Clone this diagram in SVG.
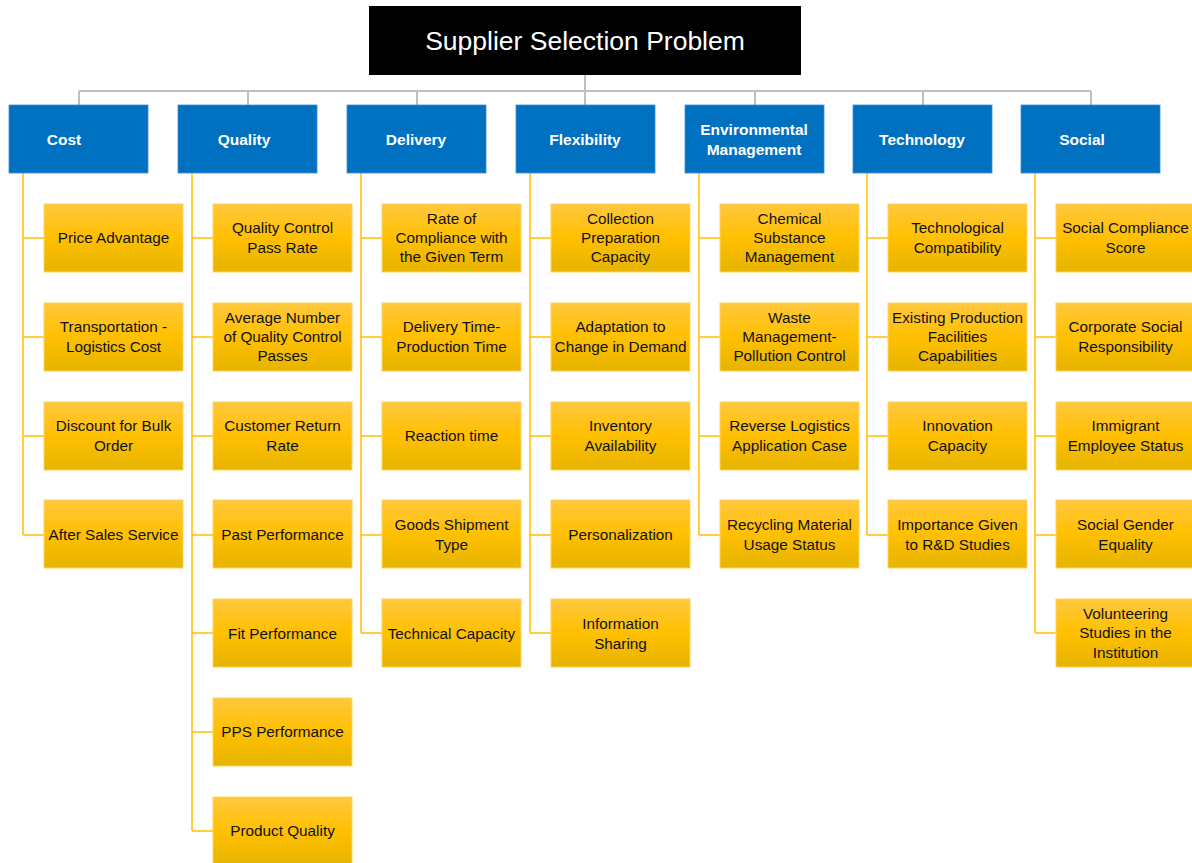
<svg xmlns="http://www.w3.org/2000/svg" width="1192" height="863" viewBox="0 0 1192 863">
<style>
.title{fill:#000}
.tt{font-family:"Liberation Sans",Arial,sans-serif;font-size:26.5px;fill:#fff;text-anchor:middle}
.cat{fill:#0070C0;stroke:#3d8fd0;stroke-width:0.8}
.ct{font-family:"Liberation Sans",Arial,sans-serif;font-size:15.5px;font-weight:bold;fill:#fff;text-anchor:middle}
.ch{fill:url(#yg);stroke:#ffd35c;stroke-width:1}
.t{font-family:"Liberation Sans",Arial,sans-serif;font-size:15.3px;fill:#111;text-anchor:middle}
.g{stroke:#BFBFBF;stroke-width:2;fill:none}
.y{stroke:#FFC000;stroke-width:1.5;fill:none}
</style>
<defs>
<linearGradient id="yg" x1="0" y1="0" x2="0" y2="1">
<stop offset="0" stop-color="#FFC83F"/>
<stop offset="0.5" stop-color="#FFC000"/>
<stop offset="1" stop-color="#E6B400"/>
</linearGradient>
</defs>
<rect width="1192" height="863" fill="#fff"/>
<g id="connectors">
<path class="g" d="M585 75V105M79 91H1091M79 91V105M248 91V105M417 91V105M755 91V105M923 91V105M1091 91V105"/>
<path class="y" d="M23 173V535M23 238H44M23 337H44M23 436H44M23 535H44"/>
<path class="y" d="M192 173V831M192 238H213M192 337H213M192 436H213M192 535H213M192 633H213M192 732H213M192 831H213"/>
<path class="y" d="M361 173V633M361 238H382M361 337H382M361 436H382M361 535H382M361 633H382"/>
<path class="y" d="M530 173V633M530 238H551M530 337H551M530 436H551M530 535H551M530 633H551"/>
<path class="y" d="M699 173V535M699 238H720M699 337H720M699 436H720M699 535H720"/>
<path class="y" d="M867 173V535M867 238H888M867 337H888M867 436H888M867 535H888"/>
<path class="y" d="M1035 173V633M1035 238H1056M1035 337H1056M1035 436H1056M1035 535H1056M1035 633H1056"/>
</g>
<g id="root"><rect class="title" x="369" y="6" width="432" height="69"/><text class="tt" x="585" y="50">Supplier Selection Problem</text></g>

<g id="cost"><rect class="cat" x="9" y="105" width="139" height="68"/><text class="ct" x="64" y="145">Cost</text></g>
<g id="quality"><rect class="cat" x="178" y="105" width="139" height="68"/><text class="ct" x="244" y="145">Quality</text></g>
<g id="delivery"><rect class="cat" x="347" y="105" width="139" height="68"/><text class="ct" x="416" y="145">Delivery</text></g>
<g id="flexibility"><rect class="cat" x="516" y="105" width="139" height="68"/><text class="ct" x="585" y="145">Flexibility</text></g>
<g id="environmental"><rect class="cat" x="685" y="105" width="139" height="68"/><text class="ct" x="754" y="135">Environmental</text><text class="ct" x="754" y="155">Management</text></g>
<g id="technology"><rect class="cat" x="853" y="105" width="139" height="68"/><text class="ct" x="922" y="145">Technology</text></g>
<g id="social"><rect class="cat" x="1021" y="105" width="139" height="68"/><text class="ct" x="1082" y="145">Social</text></g>

<g id="c1"><rect class="ch" x="44" y="204" width="139" height="68"/><text class="t" x="113.5" y="243">Price Advantage</text></g>
<g id="c2"><rect class="ch" x="44" y="303" width="139" height="68"/><text class="t" x="113.5" y="332">Transportation -</text><text class="t" x="113.5" y="352">Logistics Cost</text></g>
<g id="c3"><rect class="ch" x="44" y="402" width="139" height="68"/><text class="t" x="113.5" y="431">Discount for Bulk</text><text class="t" x="113.5" y="451">Order</text></g>
<g id="c4"><rect class="ch" x="44" y="500" width="139" height="68"/><text class="t" x="113.5" y="540">After Sales Service</text></g>

<g id="q1"><rect class="ch" x="213" y="204" width="139" height="68"/><text class="t" x="282.5" y="233">Quality Control</text><text class="t" x="282.5" y="253">Pass Rate</text></g>
<g id="q2"><rect class="ch" x="213" y="303" width="139" height="68"/><text class="t" x="282.5" y="323">Average Number</text><text class="t" x="282.5" y="342">of Quality Control</text><text class="t" x="282.5" y="361">Passes</text></g>
<g id="q3"><rect class="ch" x="213" y="402" width="139" height="68"/><text class="t" x="282.5" y="431">Customer Return</text><text class="t" x="282.5" y="451">Rate</text></g>
<g id="q4"><rect class="ch" x="213" y="500" width="139" height="68"/><text class="t" x="282.5" y="540">Past Performance</text></g>
<g id="q5"><rect class="ch" x="213" y="599" width="139" height="68"/><text class="t" x="282.5" y="639">Fit Performance</text></g>
<g id="q6"><rect class="ch" x="213" y="698" width="139" height="68"/><text class="t" x="282.5" y="737">PPS Performance</text></g>
<g id="q7"><rect class="ch" x="213" y="797" width="139" height="68"/><text class="t" x="282.5" y="836">Product Quality</text></g>

<g id="d1"><rect class="ch" x="382" y="204" width="139" height="68"/><text class="t" x="451.5" y="224">Rate of</text><text class="t" x="451.5" y="243">Compliance with</text><text class="t" x="451.5" y="262">the Given Term</text></g>
<g id="d2"><rect class="ch" x="382" y="303" width="139" height="68"/><text class="t" x="451.5" y="332">Delivery Time-</text><text class="t" x="451.5" y="352">Production Time</text></g>
<g id="d3"><rect class="ch" x="382" y="402" width="139" height="68"/><text class="t" x="451.5" y="441">Reaction time</text></g>
<g id="d4"><rect class="ch" x="382" y="500" width="139" height="68"/><text class="t" x="451.5" y="530">Goods Shipment</text><text class="t" x="451.5" y="550">Type</text></g>
<g id="d5"><rect class="ch" x="382" y="599" width="139" height="68"/><text class="t" x="451.5" y="639">Technical Capacity</text></g>

<g id="f1"><rect class="ch" x="551" y="204" width="139" height="68"/><text class="t" x="620.5" y="224">Collection</text><text class="t" x="620.5" y="243">Preparation</text><text class="t" x="620.5" y="262">Capacity</text></g>
<g id="f2"><rect class="ch" x="551" y="303" width="139" height="68"/><text class="t" x="620.5" y="332">Adaptation to</text><text class="t" x="620.5" y="352">Change in Demand</text></g>
<g id="f3"><rect class="ch" x="551" y="402" width="139" height="68"/><text class="t" x="620.5" y="431">Inventory</text><text class="t" x="620.5" y="451">Availability</text></g>
<g id="f4"><rect class="ch" x="551" y="500" width="139" height="68"/><text class="t" x="620.5" y="540">Personalization</text></g>
<g id="f5"><rect class="ch" x="551" y="599" width="139" height="68"/><text class="t" x="620.5" y="629">Information</text><text class="t" x="620.5" y="649">Sharing</text></g>

<g id="e1"><rect class="ch" x="720" y="204" width="139" height="68"/><text class="t" x="789.5" y="224">Chemical</text><text class="t" x="789.5" y="243">Substance</text><text class="t" x="789.5" y="262">Management</text></g>
<g id="e2"><rect class="ch" x="720" y="303" width="139" height="68"/><text class="t" x="789.5" y="323">Waste</text><text class="t" x="789.5" y="342">Management-</text><text class="t" x="789.5" y="361">Pollution Control</text></g>
<g id="e3"><rect class="ch" x="720" y="402" width="139" height="68"/><text class="t" x="789.5" y="431">Reverse Logistics</text><text class="t" x="789.5" y="451">Application Case</text></g>
<g id="e4"><rect class="ch" x="720" y="500" width="139" height="68"/><text class="t" x="789.5" y="530">Recycling Material</text><text class="t" x="789.5" y="550">Usage Status</text></g>

<g id="t1"><rect class="ch" x="888" y="204" width="139" height="68"/><text class="t" x="957.5" y="233">Technological</text><text class="t" x="957.5" y="253">Compatibility</text></g>
<g id="t2"><rect class="ch" x="888" y="303" width="139" height="68"/><text class="t" x="957.5" y="323">Existing Production</text><text class="t" x="957.5" y="342">Facilities</text><text class="t" x="957.5" y="361">Capabilities</text></g>
<g id="t3"><rect class="ch" x="888" y="402" width="139" height="68"/><text class="t" x="957.5" y="431">Innovation</text><text class="t" x="957.5" y="451">Capacity</text></g>
<g id="t4"><rect class="ch" x="888" y="500" width="139" height="68"/><text class="t" x="957.5" y="530">Importance Given</text><text class="t" x="957.5" y="550">to R&amp;D Studies</text></g>

<g id="s1"><rect class="ch" x="1056" y="204" width="139" height="68"/><text class="t" x="1125.5" y="233">Social Compliance</text><text class="t" x="1125.5" y="253">Score</text></g>
<g id="s2"><rect class="ch" x="1056" y="303" width="139" height="68"/><text class="t" x="1125.5" y="332">Corporate Social</text><text class="t" x="1125.5" y="352">Responsibility</text></g>
<g id="s3"><rect class="ch" x="1056" y="402" width="139" height="68"/><text class="t" x="1125.5" y="431">Immigrant</text><text class="t" x="1125.5" y="451">Employee Status</text></g>
<g id="s4"><rect class="ch" x="1056" y="500" width="139" height="68"/><text class="t" x="1125.5" y="530">Social Gender</text><text class="t" x="1125.5" y="550">Equality</text></g>
<g id="s5"><rect class="ch" x="1056" y="599" width="139" height="68"/><text class="t" x="1125.5" y="619">Volunteering</text><text class="t" x="1125.5" y="638">Studies in the</text><text class="t" x="1125.5" y="658">Institution</text></g>
</svg>
